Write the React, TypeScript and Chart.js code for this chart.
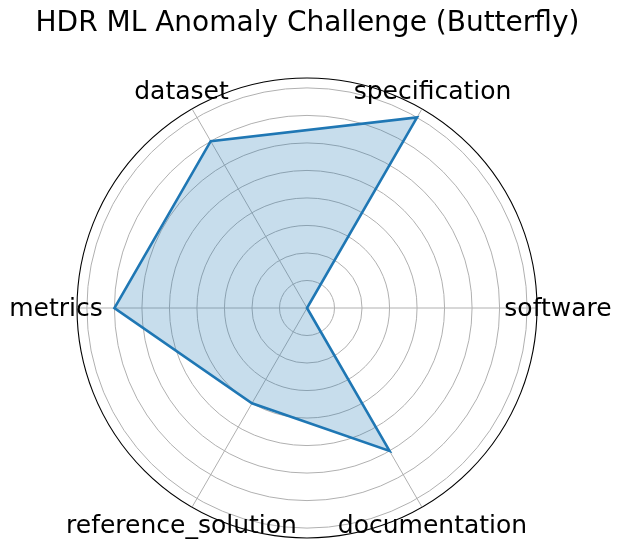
import React, { useEffect, useRef } from 'react';
import { Chart, registerables } from 'chart.js';

Chart.register(...registerables);

// Categories in Chart.js clockwise order starting at the right (startAngle 90)
const categories = ['software', 'documentation', 'reference_solution', 'metrics', 'dataset', 'specification'];
const scores = [0, 6, 4, 7, 7, 8];
const rMin = 0;
const rMax = 8.36;
const rStep = 1;
const titleText = 'HDR ML Anomaly Challenge (Butterfly)';

const FONT = '"DejaVu Sans", Verdana, sans-serif';

const labelPlugin = {
  id: 'mplPointLabels',
  afterDraw(chart: any) {
    const scale = chart.scales.r;
    const ctx = chart.ctx;
    ctx.save();
    ctx.font = `25px ${FONT}`;
    ctx.fillStyle = '#000000';
    ctx.textAlign = 'center';
    ctx.textBaseline = 'middle';
    (chart.data.labels as string[]).forEach((lab, i) => {
      const p = scale.getPointPosition(i, scale.drawingArea + 21);
      ctx.fillText(lab, p.x, p.y + 1.5);
    });
    ctx.restore();
  },
};

export default function App() {
  const ref = useRef<HTMLCanvasElement | null>(null);

  useEffect(() => {
    document.body.style.margin = '0';
    const canvas = ref.current;
    if (!canvas) return;
    const chart = new Chart(canvas, {
      type: 'radar',
      data: {
        labels: categories,
        datasets: [
          {
            data: scores,
            fill: true,
            backgroundColor: 'rgba(31,119,180,0.25)',
            borderColor: '#1f77b4',
            borderWidth: 2.6,
            pointRadius: 0,
            pointHoverRadius: 0,
            tension: 0,
          },
        ],
      },
      options: {
        responsive: false,
        animation: false,
        layout: { padding: { left: 0, right: 6, top: 0, bottom: 11 } },
        plugins: {
          legend: { display: false },
          tooltip: { enabled: false },
          title: {
            display: true,
            text: titleText,
            color: '#000000',
            font: { family: FONT, size: 28, weight: 'normal', lineHeight: 1.2 },
            padding: { top: 7, bottom: 37.4 },
          },
        },
        scales: {
          r: {
            min: rMin,
            max: rMax,
            startAngle: 90,
            ticks: { display: false, stepSize: rStep },
            pointLabels: { display: false },
            grid: {
              circular: true,
              color: (c: any) => (c.tick && c.tick.value >= rMax - 1e-6 ? '#000000' : '#b0b0b0'),
              lineWidth: (c: any) => (c.tick && c.tick.value >= rMax - 1e-6 ? 1.1 : 1),
            },
            angleLines: { display: true, color: '#b0b0b0', lineWidth: 1 },
          },
        },
      },
      plugins: [labelPlugin],
    });
    return () => chart.destroy();
  }, []);

  return (
    <div style={{ position: 'fixed', left: 0, top: 0, width: 621, height: 549, background: '#ffffff' }}>
      <canvas ref={ref} width={621} height={549} style={{ display: 'block' }} />
    </div>
  );
}
